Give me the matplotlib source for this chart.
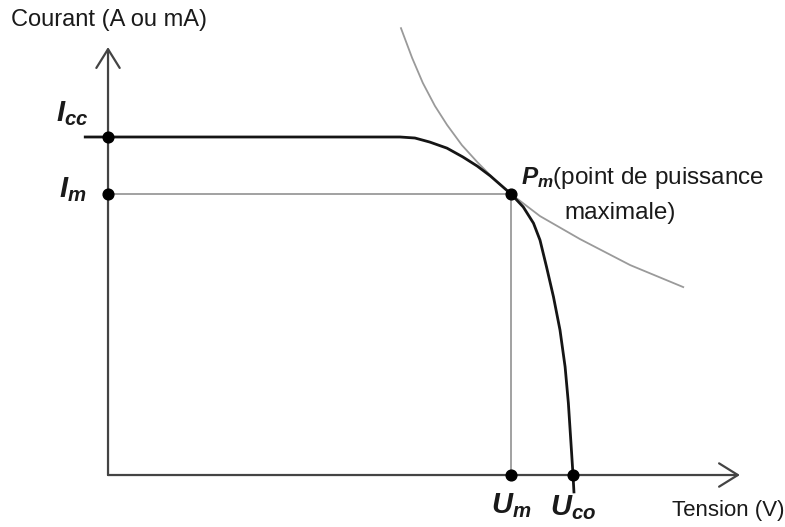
import matplotlib.pyplot as plt

# courbe I-V d'une cellule (unites normalisees : Icc = 1, Uco = 1)
courbe_u = [-0.049, 0.628, 0.660, 0.692, 0.729, 0.763, 0.794, 0.822, 0.847, 0.867,
            0.893, 0.915, 0.929, 0.943, 0.958, 0.972, 0.983, 0.990, 0.997, 1.000, 1.002]
courbe_i = [1.000, 1.000, 0.997, 0.985, 0.967, 0.941, 0.914, 0.885, 0.855, 0.831,
            0.793, 0.745, 0.695, 0.616, 0.527, 0.429, 0.320, 0.213, 0.065, 0.000, -0.050]

# hyperbole de puissance constante passant par Pm
hyper_u = [0.630, 0.654, 0.677, 0.703, 0.729, 0.761, 0.794, 0.832, 0.867,
           0.929, 1.015, 1.123, 1.237]
hyper_i = [1.322, 1.234, 1.160, 1.092, 1.036, 0.976, 0.926, 0.873, 0.831,
           0.766, 0.698, 0.621, 0.556]

Icc, Im = 1.0, 0.831
Um, Uco = 0.867, 1.0

plt.rcParams['font.family'] = ['Liberation Sans', 'DejaVu Sans']
plt.rcParams['mathtext.fontset'] = 'custom'
plt.rcParams['mathtext.it'] = 'Liberation Sans:italic:bold'
plt.rcParams['mathtext.rm'] = 'Liberation Sans:bold'

fig = plt.figure(figsize=(7.85, 5.27), dpi=100)
ax = fig.add_axes([0, 0, 1, 1])
ax.set_xlim(-0.2323, 1.4559)
ax.set_ylim(-0.1538, 1.4053)
ax.axis('off')

axe_col = '#444444'
gris = '#9a9a9a'

# axes avec fleches
ax.annotate('', xy=(0, 1.266), xytext=(0, 0),
            arrowprops=dict(arrowstyle='->, head_length=0.45, head_width=0.28',
                            color=axe_col, lw=1.6, mutation_scale=30, shrinkA=0, shrinkB=0))
ax.annotate('', xy=(1.359, 0), xytext=(0, 0),
            arrowprops=dict(arrowstyle='->, head_length=0.45, head_width=0.28',
                            color=axe_col, lw=1.6, mutation_scale=30, shrinkA=0, shrinkB=0))

# lignes de rappel
ax.plot([0, Um], [Im, Im], color=gris, lw=1.3, zorder=2)
ax.plot([Um, Um], [0, Im], color=gris, lw=1.3, zorder=2)

ax.plot(hyper_u, hyper_i, color=gris, lw=1.3, zorder=2)
ax.plot(courbe_u, courbe_i, color='#151515', lw=2.0, zorder=3, solid_joinstyle='round')

ax.scatter([0, 0, Um, Um, Uco], [Icc, Im, Im, 0, 0], s=60, color='black', zorder=4)

txt = '#1a1a1a'
ax.text(-0.209, 1.346, 'Courant (A ou mA)', fontsize=17, color=txt, ha='left', va='center')
ax.text(1.455, -0.104, 'Tension (V)', fontsize=16, color=txt, ha='right', va='center')
ax.text(-0.077, 1.07, r'$I_{cc}$', fontsize=21, color=txt, ha='center', va='center')
ax.text(-0.077, 0.845, r'$I_m$', fontsize=21, color=txt, ha='center', va='center')
ax.text(Um, -0.09, r'$U_m$', fontsize=21, color=txt, ha='center', va='center')
ax.text(Uco, -0.095, r'$U_{co}$', fontsize=21, color=txt, ha='center', va='center')
ax.text(0.888, 0.879, r'$P_m$(point de puissance', fontsize=17.5, color=txt, ha='left', va='center')
ax.text(1.101, 0.776, 'maximale)', fontsize=17.5, color=txt, ha='center', va='center')

fig.savefig('out.png', dpi=100)
